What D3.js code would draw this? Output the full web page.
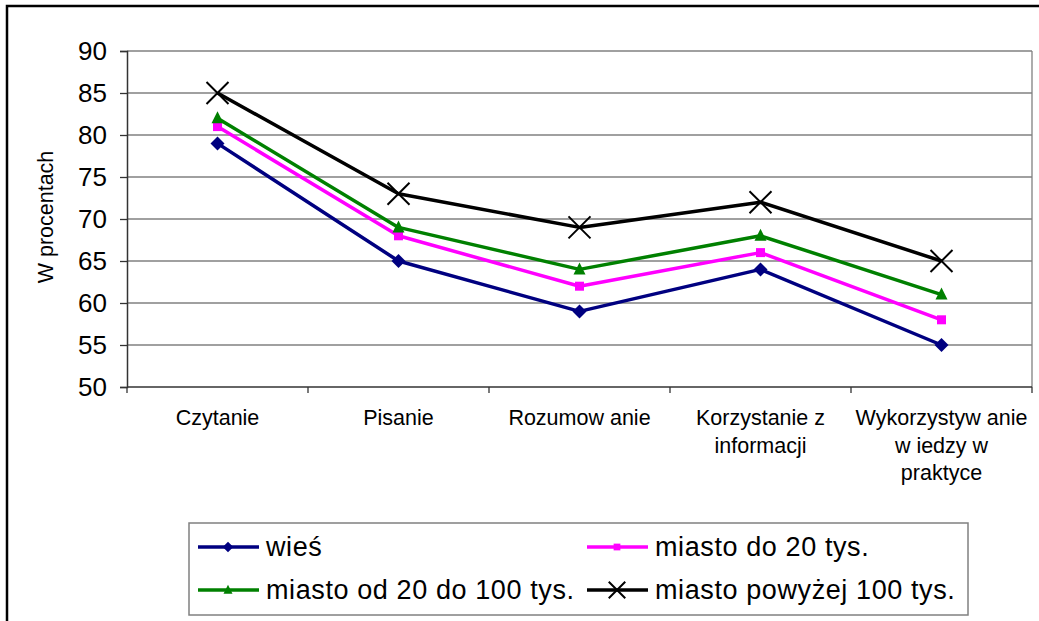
<!DOCTYPE html>
<html>
<head>
<meta charset="utf-8">
<script src="https://cdn.jsdelivr.net/npm/d3@7"></script>
<style>
  body { margin: 0; background: #fff; }
  svg { display: block; font-family: "Liberation Sans", Arial, sans-serif; }
</style>
</head>
<body>
<div id="chart"></div>
<script>
// categories and series
const categories = ["Czytanie", "Pisanie", "Rozumowanie", "Korzystanie z informacji", "Wykorzystywanie wiedzy w praktyce"];
const categoryLines = [["Czytanie"], ["Pisanie"], ["Rozumow anie"], ["Korzystanie z", "informacji"], ["Wykorzystyw anie", "w iedzy w", "praktyce"]];
const wies = [79, 65, 59, 64, 55];
const miastoDo20 = [81, 68, 62, 66, 58];
const miasto20do100 = [82, 69, 64, 68, 61];
const miastoPow100 = [85, 73, 69, 72, 65];
const yTicks = [50, 55, 60, 65, 70, 75, 80, 85, 90];

const series = [
  { name: "wieś", values: wies, color: "#000080", marker: "diamond" },
  { name: "miasto do 20 tys.", values: miastoDo20, color: "#ff00ff", marker: "square" },
  { name: "miasto od 20 do 100 tys.", values: miasto20do100, color: "#008000", marker: "triangle" },
  { name: "miasto powyżej 100 tys.", values: miastoPow100, color: "#000000", marker: "cross" }
];

const W = 1039, H = 621;
const plot = { left: 127, right: 1032, top: 51, bottom: 387 };

const svg = d3.select("#chart").append("svg")
  .attr("width", W).attr("height", H);

// outer frame (right and bottom edges fall outside the picture)
svg.append("rect")
  .attr("x", 7).attr("y", 6)
  .attr("width", W + 20).attr("height", H + 20)
  .attr("fill", "none").attr("stroke", "#000").attr("stroke-width", 2.5);

const x = d3.scaleBand()
  .domain(categories)
  .range([plot.left, plot.right]);

const y = d3.scaleLinear()
  .domain([50, 90])
  .range([plot.bottom, plot.top]);

// gridlines
svg.append("g")
  .selectAll("line")
  .data(yTicks.slice(1))
  .enter().append("line")
    .attr("x1", plot.left).attr("x2", plot.right)
    .attr("y1", d => y(d)).attr("y2", d => y(d))
    .attr("stroke", "#808080").attr("stroke-width", 1.3);

// right border of plot area
svg.append("line")
  .attr("x1", plot.right).attr("x2", plot.right)
  .attr("y1", plot.top).attr("y2", plot.bottom)
  .attr("stroke", "#808080").attr("stroke-width", 1.3);

// Y axis
const yAxis = svg.append("g")
  .attr("transform", `translate(${plot.left},0)`)
  .call(d3.axisLeft(y).tickValues(yTicks).tickSize(7).tickPadding(13));
yAxis.select(".domain").attr("stroke", "#333").attr("stroke-width", 1.5);
yAxis.selectAll(".tick line").attr("stroke", "#333").attr("stroke-width", 1.3);
yAxis.selectAll(".tick text")
  .attr("font-size", 26).attr("fill", "#000")
  .attr("font-family", "Liberation Sans, Arial, sans-serif");

// X axis: ticks at band edges
const edges = categories.map(c => x(c)).concat([plot.right]);
svg.append("line")
  .attr("x1", plot.left).attr("x2", plot.right)
  .attr("y1", plot.bottom).attr("y2", plot.bottom)
  .attr("stroke", "#333").attr("stroke-width", 1.5);
svg.append("g")
  .selectAll("line")
  .data(edges)
  .enter().append("line")
    .attr("x1", d => d).attr("x2", d => d)
    .attr("y1", plot.bottom).attr("y2", plot.bottom + 6)
    .attr("stroke", "#333").attr("stroke-width", 1.3);

// category labels
const catG = svg.append("g");
categories.forEach((c, i) => {
  const cx = x(c) + x.bandwidth() / 2;
  const t = catG.append("text")
    .attr("x", cx)
    .attr("y", 425)
    .attr("text-anchor", "middle")
    .attr("font-size", 21.5)
    .attr("fill", "#000");
  categoryLines[i].forEach((line, j) => {
    t.append("tspan")
      .attr("x", cx)
      .attr("dy", j === 0 ? 0 : 27.5)
      .text(line);
  });
});

// Y title
svg.append("text")
  .attr("transform", "translate(53,217) rotate(-90)")
  .attr("text-anchor", "middle")
  .attr("font-size", 21.5)
  .attr("fill", "#000")
  .text("W procentach");

// marker drawing
function drawMarker(g, type, color, k) {
  if (type === "diamond") {
    g.append("path").attr("d", `M0,${-7*k}L${7*k},0L0,${7*k}L${-7*k},0Z`).attr("fill", color);
  } else if (type === "square") {
    g.append("rect").attr("x", -4.5*k).attr("y", -4.5*k).attr("width", 9*k).attr("height", 9*k).attr("fill", color);
  } else if (type === "triangle") {
    g.append("path").attr("d", `M0,${-7*k}L${6*k},${5*k}L${-6*k},${5*k}Z`).attr("fill", color);
  } else if (type === "cross") {
    g.append("path").attr("d", `M${-11*k},${-11*k}L${11*k},${11*k}M${-11*k},${11*k}L${11*k},${-11*k}`)
      .attr("stroke", color).attr("stroke-width", 2).attr("fill", "none");
  }
}

const line = d3.line()
  .x((d, i) => x(categories[i]) + x.bandwidth() / 2)
  .y(d => y(d));

series.forEach(s => {
  svg.append("path")
    .datum(s.values)
    .attr("d", line)
    .attr("fill", "none")
    .attr("stroke", s.color)
    .attr("stroke-width", 3.5)
    .attr("stroke-linejoin", "round");
  s.values.forEach((v, i) => {
    const g = svg.append("g")
      .attr("transform", `translate(${x(categories[i]) + x.bandwidth() / 2},${y(v)})`);
    drawMarker(g, s.marker, s.color, 1);
  });
});

// legend
const legend = svg.append("g");
legend.append("rect")
  .attr("x", 189).attr("y", 523)
  .attr("width", 779).attr("height", 92)
  .attr("fill", "#fff").attr("stroke", "#808080").attr("stroke-width", 1.5);

const legendPos = [
  { x: 198, y: 547 }, { x: 587, y: 547 },
  { x: 198, y: 590 }, { x: 587, y: 590 }
];
series.forEach((s, i) => {
  const p = legendPos[i];
  legend.append("line")
    .attr("x1", p.x).attr("x2", p.x + 61)
    .attr("y1", p.y).attr("y2", p.y)
    .attr("stroke", s.color).attr("stroke-width", 3.5);
  const g = legend.append("g").attr("transform", `translate(${p.x + 30},${p.y})`);
  drawMarker(g, s.marker, s.color, 0.75);
  legend.append("text")
    .attr("x", p.x + 68).attr("y", p.y + 9)
    .attr("font-size", 27)
    .attr("letter-spacing", 0.6)
    .attr("fill", "#000")
    .text(s.name);
});
</script>
</body>
</html>
